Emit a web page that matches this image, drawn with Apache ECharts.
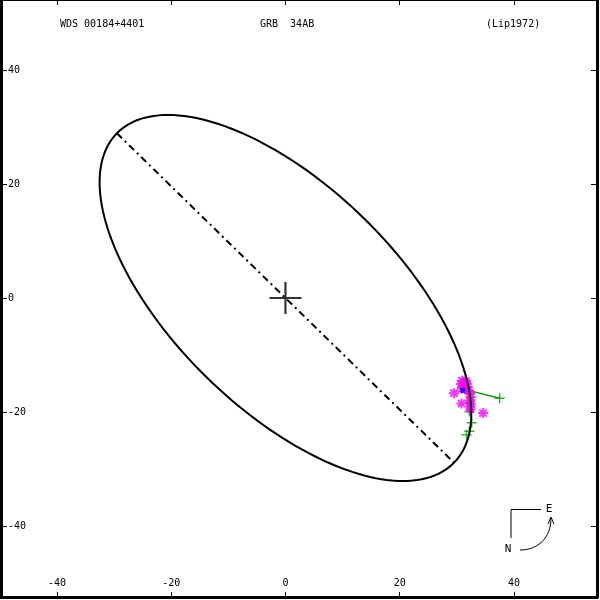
<!DOCTYPE html>
<html>
<head>
<meta charset="utf-8">
<script src="https://cdn.jsdelivr.net/npm/echarts@6/dist/echarts.min.js"></script>
<style>html,body{margin:0;padding:0;background:#fff;}#c{width:600px;height:600px;}</style>
</head>
<body>
<div id="c"></div>
<script>
// ---- Data ----
const tickValues = [-40, -20, 0, 20, 40];
const xRange = [-49.8, 54.54];
const yRange = [-52.46, 52.28];
// Apparent orbit (ellipse) elements: centre, semi-axes, orientation (deg from +x)
const orbitCenter = [0, 0];
const orbitAxes = [41.3, 19.6];
const orbitAngle = [-44.4];
// primary star
const primary = [[0, 0]];
// magenta asterisks (observations)
const magentaObs = [
  [30.9, -14.5], [31.3, -14.8], [30.7, -15.1], [31.7, -15.0], [31.2, -15.5],
  [31.9, -15.6], [31.5, -16.0], [30.9, -15.9], [31.6, -14.6], [32.0, -16.2],
  [32.3, -16.8], [32.4, -17.4], [32.3, -18.0], [32.4, -18.6],
  [32.3, -19.1], [32.4, -19.5], [29.5, -16.7], [30.8, -18.5], [34.6, -20.2]
];
// green plus observations
const greenObs = [
  [37.5, -17.6], [32.3, -16.5], [32.2, -18.3], [32.2, -19.9],
  [32.6, -21.9], [32.2, -23.4], [31.7, -24.0]
];
// O-C segment (observation -> predicted position)
const ocLine = [[37.5, -17.6], [32.4, -16.3]];
// blue filled observation
const blueObs = [[31.0, -16.2]];
// header texts
const headerTexts = ['WDS 00184+4401', 'GRB  34AB', '(Lip1972)'];

// ---- Build orbit from elements ----
function ellipsePoints() {
  const pts = [];
  const th = orbitAngle[0] * Math.PI / 180;
  const a = orbitAxes[0], b = orbitAxes[1];
  for (let i = 0; i <= 360; i += 2) {
    const t = i * Math.PI / 180;
    const u = a * Math.cos(t), v = b * Math.sin(t);
    pts.push([orbitCenter[0] + u * Math.cos(th) - v * Math.sin(th),
              orbitCenter[1] + u * Math.sin(th) + v * Math.cos(th)]);
  }
  return pts;
}
function apsides() {
  const th = orbitAngle[0] * Math.PI / 180;
  const a = orbitAxes[0];
  return [[orbitCenter[0] - a * Math.cos(th), orbitCenter[1] - a * Math.sin(th)],
          [orbitCenter[0] + a * Math.cos(th), orbitCenter[1] + a * Math.sin(th)]];
}

const FONT = 'DejaVu Sans Mono';
const PLUS = 'path://M0,-1L0,1M-1,0L1,0';
const STAR = 'path://M0,-1L0,1M-1,0L1,0M-0.72,-0.72L0.72,0.72M-0.72,0.72L0.72,-0.72';

const chart = echarts.init(document.getElementById('c'), null, {renderer: 'canvas'});

function xAxisCfg(pos, lw, showLabel) {
  return {
    type: 'value', position: pos, min: xRange[0], max: xRange[1],
    axisLine: {show: true, onZero: false, lineStyle: {color: '#000', width: lw}},
    axisTick: {show: true, inside: true, length: 5, customValues: tickValues, lineStyle: {color: '#000', width: 1}},
    axisLabel: {show: showLabel, inside: true, margin: 9, customValues: tickValues, color: '#000', fontFamily: FONT, fontSize: 10},
    splitLine: {show: false}
  };
}
function yAxisCfg(pos, lw, showLabel) {
  return {
    type: 'value', position: pos, min: yRange[0], max: yRange[1],
    axisLine: {show: true, onZero: false, lineStyle: {color: '#000', width: lw}},
    axisTick: {show: true, inside: true, length: 6, customValues: tickValues, lineStyle: {color: '#000', width: 1}},
    axisLabel: {show: showLabel, inside: true, margin: 7, customValues: tickValues, color: '#000', fontFamily: FONT, fontSize: 10},
    splitLine: {show: false}
  };
}

chart.setOption({
  animation: false,
  backgroundColor: '#fff',
  grid: {left: 1, top: 0, width: 596, height: 597},
  xAxis: [xAxisCfg('bottom', 3, true), xAxisCfg('top', 2, false)],
  yAxis: [yAxisCfg('left', 3, true), yAxisCfg('right', 3, false)],
  series: [
    {type: 'line', data: apsides(), showSymbol: false, z: 3,
     lineStyle: {color: '#000', width: 2, type: [7, 4, 2, 4]}},
    {type: 'line', data: ocLine, showSymbol: false, z: 2,
     lineStyle: {color: '#00a000', width: 1.5}},
    {type: 'scatter', data: greenObs, symbol: PLUS, symbolSize: 10, z: 2,
     itemStyle: {color: '#00a000', borderColor: '#00a000', borderWidth: 1.5}},
    {type: 'scatter', data: magentaObs, symbol: STAR, symbolSize: 10, z: 2,
     itemStyle: {color: '#ff00ff', borderColor: '#ff00ff', borderWidth: 2}},
    {type: 'scatter', data: blueObs, symbol: 'rect', symbolSize: 5, z: 2,
     itemStyle: {color: '#0000ff'}},
    {type: 'line', data: ellipsePoints(), showSymbol: false, z: 4,
     lineStyle: {color: '#000', width: 2}},
    {type: 'scatter', data: primary, symbol: PLUS, symbolSize: 32, z: 4,
     itemStyle: {color: '#000', borderColor: '#000', borderWidth: 2.2}}
  ],
  graphic: [
    {type: 'text', left: 60, top: 19, style: {text: headerTexts[0], font: '10px "DejaVu Sans Mono"', fill: '#000'}},
    {type: 'text', left: 260, top: 19, style: {text: headerTexts[1], font: '10px "DejaVu Sans Mono"', fill: '#000'}},
    {type: 'text', left: 486, top: 19, style: {text: headerTexts[2], font: '10px "DejaVu Sans Mono"', fill: '#000'}},
    // compass
    {type: 'polyline', shape: {points: [[511, 538], [511, 509.5], [541, 509.5]]}, style: {stroke: '#000', lineWidth: 1, fill: null}},
    {type: 'text', x: 549, y: 509, style: {text: 'E', font: '11px "DejaVu Sans Mono"', fill: '#000', align: 'center', verticalAlign: 'middle'}},
    {type: 'text', x: 508, y: 549, style: {text: 'N', font: '11px "DejaVu Sans Mono"', fill: '#000', align: 'center', verticalAlign: 'middle'}},
    {type: 'bezierCurve', shape: {x1: 520, y1: 550, cpx1: 538, cpy1: 550, cpx2: 551, cpy2: 538, x2: 551, y2: 518}, style: {stroke: '#000', lineWidth: 1, fill: null}},
    {type: 'polyline', shape: {points: [[548, 524], [551, 517], [554, 524]]}, style: {stroke: '#000', lineWidth: 1, fill: null}}
  ]
});
</script>
</body>
</html>
